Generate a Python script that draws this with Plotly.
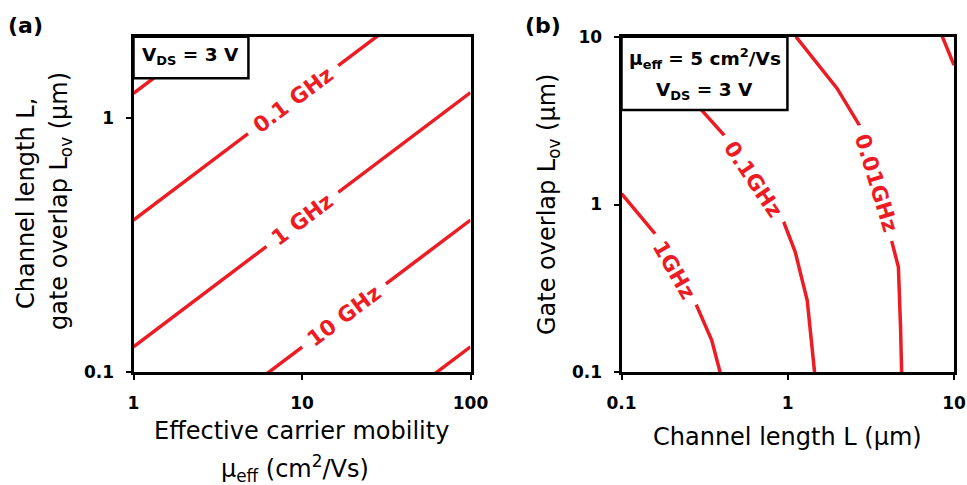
import numpy as np
import plotly.graph_objects as go

W, H = 967, 485
RED = "#ED1C24"
FONT = "DejaVu Sans"

# ---------------- (a) cutoff frequency vs mobility and channel length ----------------
mobility_a = [1, 100]                      # cm^2/Vs, end points of each straight contour
L_0p01GHz_a = [1.25, 12.5]                 # um
L_0p1GHz_a = [0.397, 3.97]
L_1GHz_a = [0.126, 1.26]
L_10GHz_a = [0.0397, 0.397]
L_100GHz_a = [0.0126, 0.126]

labels_a = ["0.1 GHz", "1 GHz", "10 GHz"]
label_mu_a = [8.9, 10.0, 17.8]             # where each label sits along its line

x_ticks_a = [1, 10, 100]
x_ticktext_a = ["1", "10", "100"]
y_ticks_a = [0.1, 1]
y_ticktext_a = ["0.1", "1"]

# ---------------- (b) cutoff frequency vs channel length and gate overlap ----------------
L_1GHz_b = [0.1, 0.159, 0.207, 0.283, 0.349, 0.392]
Lov_1GHz_b = [1.16, 0.670, 0.410, 0.250, 0.155, 0.1]
L_0p1GHz_b = [0.258, 0.308, 0.420, 0.615, 0.945, 1.11, 1.31, 1.45]
Lov_0p1GHz_b = [4.36, 3.60, 2.55, 1.42, 0.787, 0.520, 0.268, 0.1]
L_0p01GHz_b = [1.12, 1.98, 2.77, 3.44, 4.25, 4.63, 4.77, 4.84]
Lov_0p01GHz_b = [10, 4.92, 2.84, 1.34, 0.589, 0.424, 0.186, 0.1]
L_0p001GHz_b = [8.51, 10.0]
Lov_0p001GHz_b = [10, 6.78]

labels_b = ["1GHz", "0.1GHz", "0.01GHz"]
label_idx_b = [2, 3, 3]
label_angle_b = [60, 56, 73]

ticks_b = [0.1, 1, 10]
ticktext_b = ["0.1", "1", "10"]


def px_x(p):
    return p / W


def px_y(p):
    return 1 - p / H


fig = go.Figure()

line_style = dict(color=RED, width=3.5)

for Ls in [L_0p01GHz_a, L_0p1GHz_a, L_1GHz_a, L_10GHz_a, L_100GHz_a]:
    fig.add_trace(go.Scatter(x=mobility_a, y=Ls, mode="lines", line=line_style,
                             xaxis="x", yaxis="y", hoverinfo="skip"))

for Ls, Lovs in [(L_1GHz_b, Lov_1GHz_b), (L_0p1GHz_b, Lov_0p1GHz_b),
                 (L_0p01GHz_b, Lov_0p01GHz_b), (L_0p001GHz_b, Lov_0p001GHz_b)]:
    fig.add_trace(go.Scatter(x=Ls, y=Lovs, mode="lines", line=line_style,
                             xaxis="x2", yaxis="y2", hoverinfo="skip"))

axis_common = dict(
    type="log", showline=True, linecolor="black", linewidth=3, mirror=True,
    ticks="outside", ticklen=5, tickwidth=2, tickcolor="black",
    showgrid=False, zeroline=False, tickmode="array",
    tickfont=dict(family=FONT, size=17, color="black", weight="bold"),
)

top, bottom = 36.7, 372.3
fig.update_layout(
    width=W, height=H, margin=dict(l=0, r=0, t=0, b=0, autoexpand=False),
    paper_bgcolor="white", plot_bgcolor="white", showlegend=False,
    xaxis=dict(axis_common, domain=[px_x(133.5), px_x(470.5)], range=[0, 2],
               tickvals=x_ticks_a, ticktext=x_ticktext_a, anchor="y", ticklabelstandoff=8),
    yaxis=dict(axis_common, domain=[px_y(bottom), px_y(top)], range=[-1, 0.32],
               tickvals=y_ticks_a, ticktext=y_ticktext_a, anchor="x", ticklabelstandoff=8),
    xaxis2=dict(axis_common, domain=[px_x(621.5), px_x(954)], range=[-1, 1],
                tickvals=ticks_b, ticktext=ticktext_b, anchor="y2", ticklabelstandoff=8),
    yaxis2=dict(axis_common, domain=[px_y(bottom), px_y(top)], range=[-1, 1],
                tickvals=ticks_b, ticktext=ticktext_b, anchor="x2", ticklabelstandoff=8),
)

annotations = []
label_font = dict(family=FONT, size=21.5, color=RED, weight="bold")

# contour labels, panel (a): placed on their lines, white backing breaks the line
for text, mu, Ls in zip(labels_a, label_mu_a, [L_0p1GHz_a, L_1GHz_a, L_10GHz_a]):
    lx = np.log10(mu)
    l0, l1 = np.log10(Ls[0]), np.log10(Ls[1])
    m0, m1 = np.log10(mobility_a[0]), np.log10(mobility_a[1])
    ly = l0 + (lx - m0) * (l1 - l0) / (m1 - m0)
    annotations.append(dict(
        x=lx, y=ly, xref="x", yref="y", text=text, showarrow=False, textangle=-37,
        font=label_font, bgcolor="white", borderpad=9,
        xanchor="center", yanchor="middle"))

# contour labels, panel (b)
for text, idx, ang, Ls, Lovs in zip(labels_b, label_idx_b, label_angle_b,
                                    [L_1GHz_b, L_0p1GHz_b, L_0p01GHz_b],
                                    [Lov_1GHz_b, Lov_0p1GHz_b, Lov_0p01GHz_b]):
    annotations.append(dict(
        x=np.log10(Ls[idx]), y=np.log10(Lovs[idx]), xref="x2", yref="y2", text=text,
        showarrow=False, textangle=ang, font=label_font,
        bgcolor="white", borderpad=9, xanchor="center", yanchor="middle"))

bold18 = dict(family=FONT, size=18.5, color="black", weight="bold")
reg24 = dict(family=FONT, size=24, color="black")


def paper_text(px, py, text, font, angle=0, xanchor="center"):
    return dict(x=px_x(px), y=px_y(py), xref="paper", yref="paper", showarrow=False,
                text=text, font=font, textangle=angle,
                xanchor=xanchor, yanchor="middle")


# condition boxes
annotations += [
    paper_text(190.8, 56, "V<sub>DS</sub> = 3 V", bold18),
    paper_text(704.5, 58, "μ<sub>eff</sub> = 5 cm<sup>2</sup>/Vs", bold18),
    paper_text(704.5, 91, "V<sub>DS</sub> = 3 V", bold18),
]

# panel letters
letter_font = dict(family=FONT, size=22, color="black", weight="bold")
annotations += [
    paper_text(6, 25, "(a)", letter_font, xanchor="left"),
    paper_text(523, 25, "(b)", letter_font, xanchor="left"),
]

# axis titles
annotations += [
    paper_text(301, 431, "Effective carrier mobility", reg24),
    paper_text(295, 468, "μ<sub>eff</sub> (cm<sup>2</sup>/Vs)", reg24),
    paper_text(26, 204, "Channel length L,", reg24, angle=-90),
    paper_text(60, 201, "gate overlap L<sub>ov</sub> (μm)", reg24, angle=-90),
    paper_text(787.5, 437, "Channel length L (μm)", reg24),
    paper_text(548, 205, "Gate overlap L<sub>ov</sub> (μm)", reg24, angle=-90),
]

fig.update_layout(
    annotations=annotations,
    shapes=[
        dict(type="rect", xref="x domain", yref="y domain", x0=0, x1=0.341, y0=0.876, y1=1,
             fillcolor="white", line=dict(color="black", width=2.5), layer="above"),
        dict(type="rect", xref="x2 domain", yref="y2 domain", x0=0, x1=0.499, y0=0.7816, y1=1,
             fillcolor="white", line=dict(color="black", width=2.5), layer="above"),
    ],
)

fig.write_html("out.html")
